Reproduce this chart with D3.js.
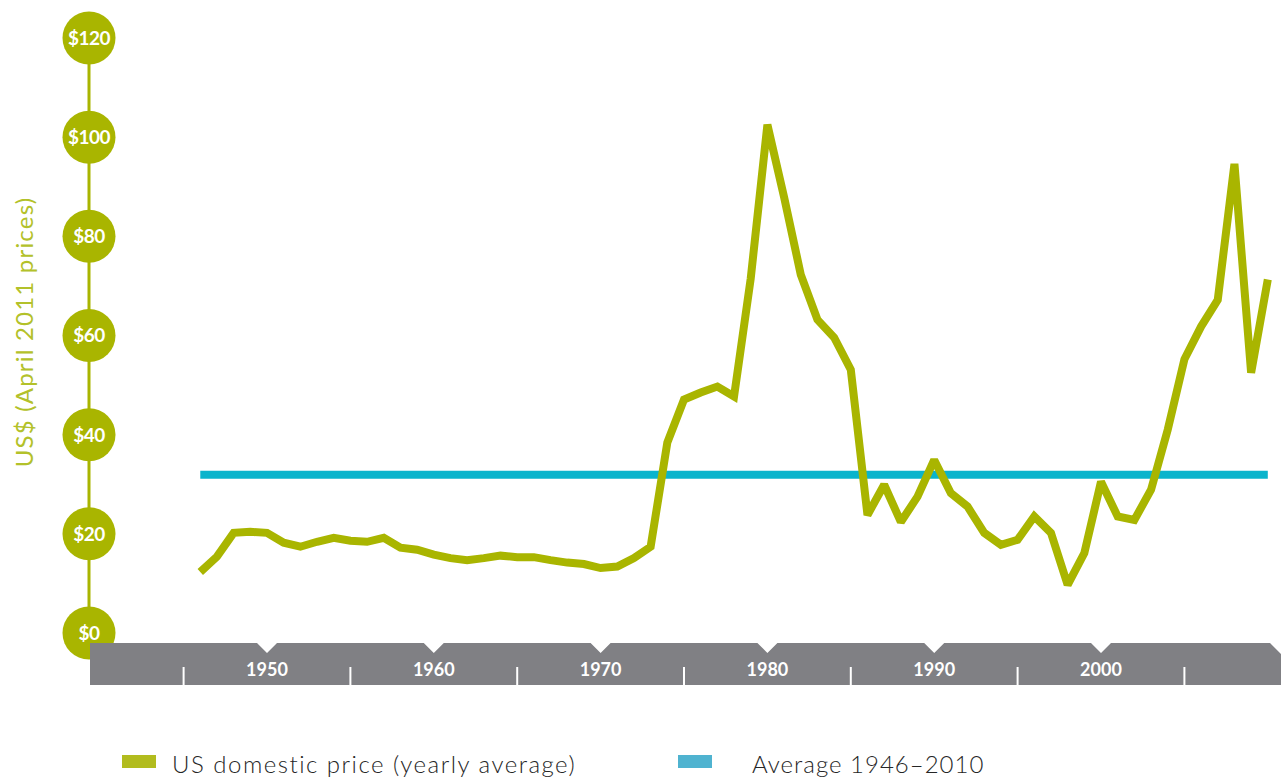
<!DOCTYPE html>
<html>
<head>
<meta charset="utf-8">
<script src="https://cdn.jsdelivr.net/npm/d3@7"></script>
<style>
  html, body { margin: 0; padding: 0; background: #fff; }
  svg { display: block; }
</style>
</head>
<body>
<svg id="chart" width="1281" height="778"></svg>
<script>
// Yearly average US domestic crude price, US$ at April 2011 prices
const years = d3.range(1946, 2011);
const prices = [
  12.3, 15.4, 20.2, 20.4, 20.2, 18.2, 17.4, 18.4, 19.2, 18.6,
  18.4, 19.2, 17.2, 16.8, 15.8, 15.1, 14.7, 15.1, 15.6, 15.3,
  15.3, 14.7, 14.2, 13.9, 13.1, 13.4, 15.1, 17.4, 38.4, 47.1,
  48.5, 49.7, 47.7, 71.5, 102.5, 87.9, 72.3, 63.2, 59.6, 53.1,
  23.8, 29.9, 22.4, 27.5, 34.9, 28.2, 25.5, 20.2, 17.8, 18.8,
  23.5, 20.2, 9.7, 16.1, 30.5, 23.5, 22.8, 28.9, 41.0, 55.2,
  61.8, 67.2, 94.6, 52.5, 71.3
];
const averageValue = 31.9;
const averageRange = [1946, 2010];

const yTicks = [0, 20, 40, 60, 80, 100, 120];
const decadeLabels = [1950, 1960, 1970, 1980, 1990, 2000];
const midTicks = [1945, 1955, 1965, 1975, 1985, 1995, 2005];

const legendItems = [
  { label: "US domestic price (yearly average)", color: "#b2bc1e" },
  { label: "Average 1946\u20132010", color: "#4fb3d0" }
];

const green = "#a9b500";
const blue = "#0ab4cc";
const gray = "#808084";

const svg = d3.select("#chart");

const x = d3.scaleLinear().domain([1950, 2000]).range([267, 1101]);
const y = d3.scaleLinear().domain([0, 120]).range([633, 38]);

// --- y axis: vertical stem with round value badges ---
const axisX = 89;
const yAxis = svg.append("g");
yAxis.append("line")
  .attr("x1", axisX).attr("x2", axisX)
  .attr("y1", y(120)).attr("y2", y(0))
  .attr("stroke", green).attr("stroke-width", 3);

const badge = yAxis.selectAll("g.badge").data(yTicks).enter()
  .append("g").attr("class", "badge")
  .attr("transform", d => `translate(${axisX},${y(d)})`);
badge.append("circle").attr("r", 26.5).attr("fill", green);
badge.append("text")
  .attr("text-anchor", "middle")
  .attr("dy", "0.36em")
  .attr("fill", "#fff")
  .attr("font-family", "Lato, 'Open Sans', sans-serif")
  .attr("font-weight", 700)
  .attr("font-size", 19)
  .attr("letter-spacing", "-0.5px")
  .text(d => "$" + d);

// axis title
svg.append("text")
  .attr("transform", `translate(33,${332}) rotate(-90)`)
  .attr("text-anchor", "middle")
  .attr("fill", "#b3c12a")
  .attr("font-family", "Lato, 'Open Sans', sans-serif")
  .attr("font-size", 24)
  .attr("letter-spacing", "1.2px")
  .text("US$ (April 2011 prices)");

// --- x axis band with notches at each decade ---
const bandTop = 643, bandBottom = 685, bandLeft = 90, bandRight = 1281;
const notchHalf = 10, notchDepth = 10;
const bandPath = d3.path();
bandPath.moveTo(bandLeft, bandTop);
decadeLabels.forEach(d => {
  bandPath.lineTo(x(d) - notchHalf, bandTop);
  bandPath.lineTo(x(d), bandTop + notchDepth);
  bandPath.lineTo(x(d) + notchHalf, bandTop);
});
bandPath.lineTo(bandRight - 11, bandTop);
bandPath.lineTo(bandRight, bandTop + 11);
bandPath.lineTo(bandRight, bandBottom);
bandPath.lineTo(bandLeft, bandBottom);
bandPath.closePath();

const xAxis = svg.append("g");
xAxis.append("path").attr("d", bandPath.toString()).attr("fill", gray);

xAxis.selectAll("line.mid").data(midTicks).enter()
  .append("line").attr("class", "mid")
  .attr("x1", d => x(d)).attr("x2", d => x(d))
  .attr("y1", 667).attr("y2", bandBottom)
  .attr("stroke", "#fff").attr("stroke-width", 2);

xAxis.selectAll("text.decade").data(decadeLabels).enter()
  .append("text").attr("class", "decade")
  .attr("x", d => x(d)).attr("y", 676)
  .attr("text-anchor", "middle")
  .attr("fill", "#fff")
  .attr("font-family", "Lato, 'Open Sans', sans-serif")
  .attr("font-weight", 700)
  .attr("font-size", 18)
  .text(d => d);

// --- average line ---
svg.append("line")
  .attr("x1", x(averageRange[0])).attr("x2", x(averageRange[1]))
  .attr("y1", y(averageValue)).attr("y2", y(averageValue))
  .attr("stroke", blue).attr("stroke-width", 8);

// --- price line ---
const series = years.map((yr, i) => ({ year: yr, value: prices[i] }));
const line = d3.line().x(d => x(d.year)).y(d => y(d.value));
svg.append("path")
  .datum(series)
  .attr("d", line)
  .attr("fill", "none")
  .attr("stroke", green)
  .attr("stroke-width", 8)
  .attr("stroke-linejoin", "miter")
  .attr("stroke-miterlimit", 2);

// --- legend ---
const legendX = [122, 678];
const legendTextX = [50, 74];
const legendSpacing = [1.5, 1];
const legend = svg.selectAll("g.legend").data(legendItems).enter()
  .append("g").attr("class", "legend")
  .attr("transform", (d, i) => `translate(${legendX[i]},755)`);
legend.append("rect")
  .attr("width", 34).attr("height", 13)
  .attr("fill", d => d.color);
legend.append("text")
  .attr("x", (d, i) => legendTextX[i]).attr("y", 18)
  .attr("fill", "#262626")
  .attr("font-family", "Lato, 'Open Sans', sans-serif")
  .attr("font-weight", 300)
  .attr("font-size", 24)
  .attr("letter-spacing", (d, i) => legendSpacing[i] + "px")
  .text(d => d.label);
</script>
</body>
</html>
